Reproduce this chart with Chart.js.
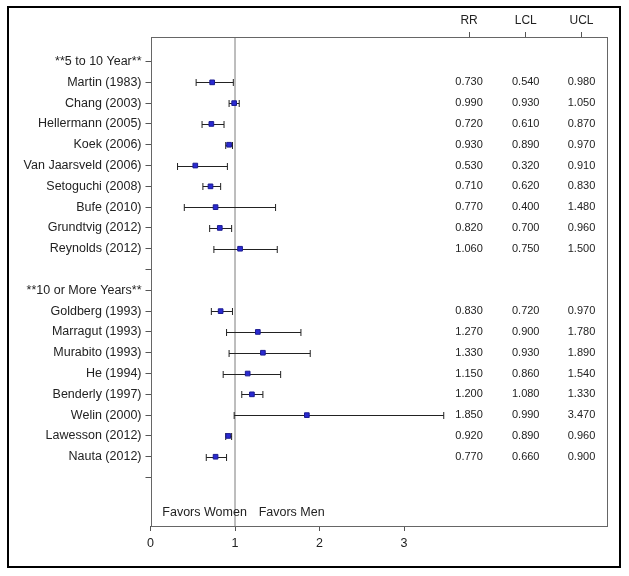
<!DOCTYPE html>
<html>
<head>
<meta charset="utf-8">
<script src="https://cdn.jsdelivr.net/npm/chart.js@4.4.1/dist/chart.umd.min.js"></script>
<style>
  html, body { margin: 0; padding: 0; background: #fff; }
  #forest { display: block; }
</style>
</head>
<body>
<canvas id="forest" width="629" height="576"></canvas>
<script>
// rows of the forest plot, top to bottom
const rowLabels = [
  '**5 to 10 Year**', 'Martin (1983)', 'Chang (2003)', 'Hellermann (2005)', 'Koek (2006)',
  'Van Jaarsveld (2006)', 'Setoguchi (2008)', 'Bufe (2010)', 'Grundtvig (2012)', 'Reynolds (2012)',
  '', '**10 or More Years**', 'Goldberg (1993)', 'Marragut (1993)', 'Murabito (1993)', 'He (1994)',
  'Benderly (1997)', 'Welin (2000)', 'Lawesson (2012)', 'Nauta (2012)', ''
];
const rr  = [null, 0.73, 0.99, 0.72, 0.93, 0.53, 0.71, 0.77, 0.82, 1.06, null, null, 0.83, 1.27, 1.33, 1.15, 1.20, 1.85, 0.92, 0.77, null];
const lcl = [null, 0.54, 0.93, 0.61, 0.89, 0.32, 0.62, 0.40, 0.70, 0.75, null, null, 0.72, 0.90, 0.93, 0.86, 1.08, 0.99, 0.89, 0.66, null];
const ucl = [null, 0.98, 1.05, 0.87, 0.97, 0.91, 0.83, 1.48, 0.96, 1.50, null, null, 0.97, 1.78, 1.89, 1.54, 1.33, 3.47, 0.96, 0.90, null];
const xTicks = [0, 1, 2, 3];
const colNames = ['RR', 'LCL', 'UCL'];
const colPos = [3.77, 4.44, 5.1];   // where the text columns sit on the x scale
const refValue = 1;

const FONT = '"Liberation Sans", Arial, sans-serif';
const TXT = '#222';

const points = [];
rr.forEach((v, i) => { if (v !== null) points.push({ x: v, y: i }); });

// outer frame round the whole graph
const framePlugin = {
  id: 'frame',
  beforeDraw(chart) {
    const c = chart.ctx;
    c.save();
    c.fillStyle = '#fff';
    c.fillRect(0, 0, chart.width, chart.height);
    c.strokeStyle = '#000';
    c.lineWidth = 2;
    c.strokeRect(8, 7, 612, 560);
    c.restore();
  },
  afterDraw(chart) {
    const a = chart.chartArea;
    const c = chart.ctx;
    c.save();
    c.strokeStyle = '#666';
    c.lineWidth = 1;
    c.strokeRect(Math.round(a.left) + 0.5, Math.round(a.top) + 0.5,
      Math.round(a.right - a.left), Math.round(a.bottom - a.top));
    c.restore();
  }
};

// reference line and confidence intervals
const ciPlugin = {
  id: 'ci',
  beforeDatasetsDraw(chart) {
    const x = chart.scales.x, y = chart.scales.y, a = chart.chartArea;
    const c = chart.ctx;
    c.save();
    const rx = x.getPixelForValue(refValue);
    c.strokeStyle = '#a8a8a8';
    c.lineWidth = 1.5;
    c.beginPath();
    c.moveTo(rx, a.top);
    c.lineTo(rx, a.bottom);
    c.stroke();

    c.strokeStyle = '#222';
    c.lineWidth = 1;
    rr.forEach((v, i) => {
      if (v === null) return;
      const py = Math.round(y.getPixelForValue(i)) + 0.5;
      const x1 = x.getPixelForValue(lcl[i]);
      const x2 = x.getPixelForValue(ucl[i]);
      c.beginPath();
      c.moveTo(x1, py); c.lineTo(x2, py);
      c.moveTo(x1, py - 3.5); c.lineTo(x1, py + 3.5);
      c.moveTo(x2, py - 3.5); c.lineTo(x2, py + 3.5);
      c.stroke();
    });
    c.restore();
  },
  afterDraw(chart) {
    const x = chart.scales.x, y = chart.scales.y;
    const c = chart.ctx;
    c.save();
    c.fillStyle = TXT;
    c.font = '11px ' + FONT;
    c.textAlign = 'center';
    c.textBaseline = 'middle';
    const cols = [rr, lcl, ucl];
    rr.forEach((v, i) => {
      if (v === null) return;
      const py = y.getPixelForValue(i);
      cols.forEach((arr, k) => {
        c.fillText(arr[i].toFixed(3), x.getPixelForValue(colPos[k]), py);
      });
    });
    c.font = '12.5px ' + FONT;
    c.textAlign = 'left';
    const fy = y.getPixelForValue(21.7);
    c.fillText('Favors Women', x.getPixelForValue(0.14), fy);
    c.fillText('Favors Men', x.getPixelForValue(1.28), fy);
    c.restore();
  }
};

new Chart(document.getElementById('forest'), {
  type: 'scatter',
  data: {
    datasets: [{
      data: points,
      pointStyle: 'rect',
      pointRadius: 3.3,
      backgroundColor: '#2a2ad2',
      borderColor: '#1c1c90',
      borderWidth: 1
    }]
  },
  options: {
    responsive: false,
    animation: false,
    layout: { padding: { left: 0, right: 23, top: 0, bottom: 0 } },
    plugins: { legend: { display: false }, tooltip: { enabled: false } },
    scales: {
      x: {
        type: 'linear',
        position: 'bottom',
        min: 0,
        max: 5.39,
        afterBuildTicks: s => { s.ticks = xTicks.map(v => ({ value: v })); },
        afterFit: s => { s.height = 50; },
        border: { display: false },
        grid: { drawOnChartArea: false, tickLength: 5, color: '#555' },
        ticks: { autoSkip: false, padding: 5, color: TXT, font: { family: FONT, size: 12.5 }, maxRotation: 0 }
      },
      x2: {
        type: 'linear',
        position: 'top',
        min: 0,
        max: 5.39,
        afterBuildTicks: s => { s.ticks = colPos.map(v => ({ value: v })); },
        afterFit: s => { s.height = 37; },
        border: { display: false },
        grid: { drawOnChartArea: false, tickLength: 5, color: '#555' },
        ticks: {
          autoSkip: false, padding: 4, color: TXT, maxRotation: 0,
          font: { family: FONT, size: 12 },
          callback: (v, i) => colNames[i]
        }
      },
      y: {
        type: 'linear',
        reverse: true,
        min: -1.18,
        max: 22.33,
        afterBuildTicks: s => { s.ticks = rowLabels.map((_, i) => ({ value: i })); },
        afterFit: s => { s.width = 150.5; },
        border: { display: false },
        grid: { drawOnChartArea: false, tickLength: 5, color: '#555' },
        ticks: {
          autoSkip: false, padding: 4, color: TXT,
          font: { family: FONT, size: 12.5 },
          callback: v => rowLabels[v]
        }
      }
    }
  },
  plugins: [framePlugin, ciPlugin]
});
</script>
</body>
</html>
